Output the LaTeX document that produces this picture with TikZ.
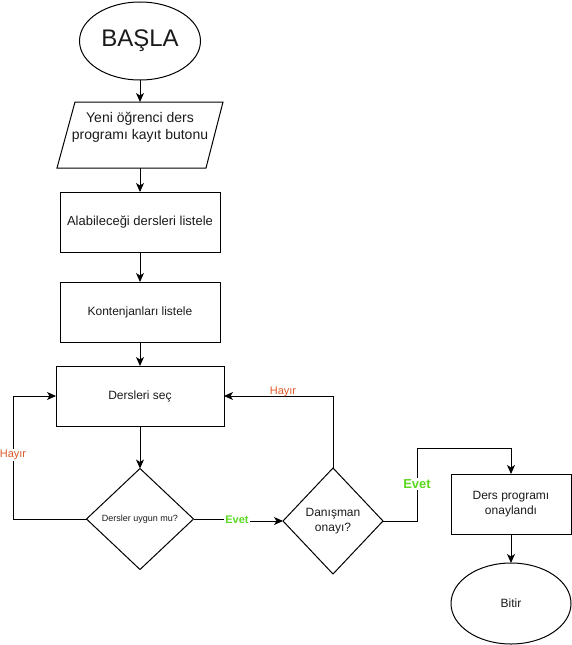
\documentclass[tikz,border=0pt]{standalone}
\usepackage{fontspec}
\setmainfont{Liberation Sans}
\usetikzlibrary{shapes.geometric,arrows.meta}
\definecolor{ink}{HTML}{1A1A1A}
\definecolor{nocol}{HTML}{DD5A28}
\definecolor{yescol}{HTML}{5BD91F}
\begin{document}
\begin{tikzpicture}[x=1pt,y=-1pt,
  every node/.style={text=ink, inner sep=0pt, outer sep=0pt, align=center},
  box/.style={draw, line width=1pt, minimum width=160pt, minimum height=60pt},
  oval/.style={draw, ellipse, line width=1pt, minimum width=121pt, minimum height=78pt},
  decision/.style={draw, diamond, line width=1pt},
  flow/.style={draw, line width=1pt, -{Stealth[length=9pt,width=8pt,inset=2.5pt]}},
  lbl/.style={fill=white, inner sep=1pt}
]
\useasboundingbox (0,0) rectangle (572,645);

% start
\node[oval, font=\fontsize{24}{28}\selectfont] (start) at (140,41) {BAŞLA};

% input (parallelogram)
\node[minimum width=166pt, minimum height=66pt] (input) at (140,135) {};
\draw[line width=1pt] ([xshift=18pt]input.north west) -- (input.north east)
  -- ([xshift=-17pt]input.south east) -- (input.south west) -- cycle;
\node[font=\fontsize{14}{17}\selectfont] (inputtext) at ([yshift=8pt]input.center)
  {Yeni öğrenci ders\\programı kayıt butonu};

% process steps
\node[box, font=\fontsize{13}{16}\selectfont] (list) at (140,222) {Alabileceği dersleri listele};
\node[box, font=\fontsize{12}{15}\selectfont] (quota) at (140,312) {Kontenjanları listele};
\node[box, minimum width=168pt, font=\fontsize{12}{15}\selectfont] (select) at (140,396) {Dersleri seç};

% decisions
\node[decision, minimum width=107pt, minimum height=101pt, font=\fontsize{9}{11}\selectfont] (check) at (140,519) {Dersler uygun mu?};
\node[decision, minimum width=100pt, minimum height=106pt, font=\fontsize{12}{15}\selectfont] (advisor) at (333,521) {Danışman\\onayı?};

% approval and end
\node[box, minimum width=120pt, font=\fontsize{12}{15}\selectfont] (approved) at (511,504) {Ders programı\\onaylandı};
\node[oval, minimum width=120pt, minimum height=81pt, font=\fontsize{12}{15}\selectfont] (finish) at (511,603.5) {Bitir};

% main flow
\draw[flow] (start.south) -- (input.north);
\draw[flow] (input.south) -- (list.north);
\draw[flow] (list.south) -- (quota.north);
\draw[flow] (quota.south) -- (select.north);
\draw[flow] (select.south) -- (check.north);

% course check: no -> back to selection
\draw[flow] (check.west) -- ++(-73.5,0) |- (select.west);
\node[lbl, text=nocol, font=\fontsize{11}{13}\selectfont] (no1) at (13,455) {Hayır};

% course check: yes -> advisor
\draw[flow] (check.east) -- ++(43,0) |- (advisor.west);
\node[lbl, text=yescol, font=\bfseries\fontsize{11}{13}\selectfont] (yes1) at (237,520) {Evet};

% advisor: no -> back to selection
\draw[flow] (advisor.north) |- (select.east);
\node[text=nocol, anchor=base, font=\fontsize{11}{13}\selectfont] (no2) at (283,394.5) {Hayır};

% advisor: yes -> approved
\draw[flow] (advisor.east) -- ++(34,0) -- ++(0,-73) -| (approved.north);
\node[lbl, text=yescol, font=\bfseries\fontsize{13}{15}\selectfont] (yes2) at (417,484) {Evet};

\draw[flow] (approved.south) -- (finish.north);
\end{tikzpicture}
\end{document}
